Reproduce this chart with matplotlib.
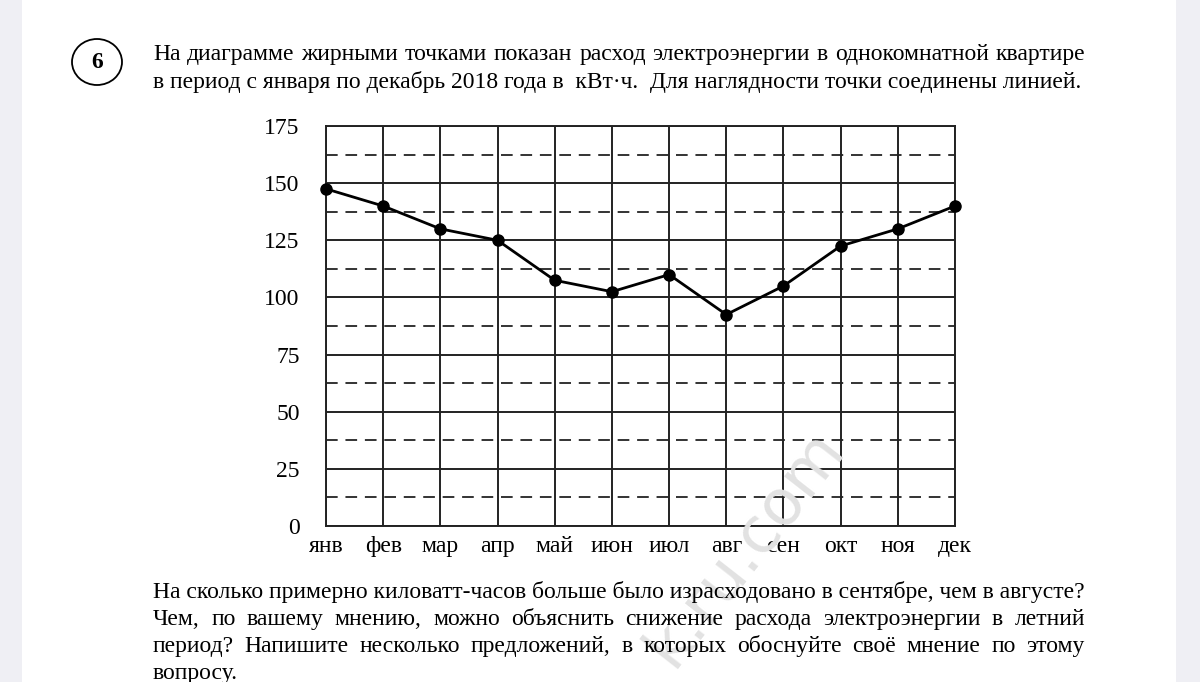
import matplotlib
matplotlib.use("Agg")
import matplotlib.pyplot as plt
from matplotlib.patches import Ellipse, Rectangle

# --- данные ---
months = ["янв", "фев", "мар", "апр", "май", "июн",
          "июл", "авг", "сен", "окт", "ноя", "дек"]
consumption = [147.5, 140, 130, 125, 107.5, 102.5,
               110, 92.5, 105, 122.5, 130, 140]
y_ticks = [0, 25, 50, 75, 100, 125, 150, 175]
y_half = [12.5, 37.5, 62.5, 87.5, 112.5, 137.5, 162.5]

title_lines = [
    "На диаграмме жирными точками показан расход электроэнергии в однокомнатной квартире",
    "в период с января по декабрь 2018 года в  кВт\u00b7ч.  Для наглядности точки соединены линией.",
]
question_lines = [
    "На сколько примерно киловатт-часов больше было израсходовано в сентябре, чем в августе?",
    "Чем, по вашему мнению, можно объяснить снижение расхода электроэнергии в летний",
    "период? Напишите несколько предложений, в которых обоснуйте своё мнение по этому",
    "вопросу.",
]

W, H = 1200, 682
FONT = "Liberation Serif"
FS = 17

fig = plt.figure(figsize=(W / 100, H / 100), dpi=100)
fig.patch.set_facecolor("white")

# серые поля по краям (скриншот)
fig.patches.append(Rectangle((0, 0), 22 / W, 1, transform=fig.transFigure,
                             facecolor="#efeff4", edgecolor="none", zorder=0))
fig.patches.append(Rectangle((1176 / W, 0), 24 / W, 1, transform=fig.transFigure,
                             facecolor="#efeff4", edgecolor="none", zorder=0))


def px(x, y):
    return x / W, 1 - y / H


def justified(text, y, x0, x1, justify=True):
    # раскладываем слова так, чтобы строка заняла всю ширину
    words = text.split()
    if not justify:
        fig.text(*px(x0, y), text, fontsize=FS, family=FONT, va="baseline", ha="left")
        return
    r = fig.canvas.get_renderer()
    arts = [fig.text(0, 0, w_, fontsize=FS, family=FONT, va="baseline", ha="left") for w_ in words]
    widths = [a.get_window_extent(renderer=r).width for a in arts]
    gap = (x1 - x0 - sum(widths)) / (len(words) - 1)
    x = x0
    for a, w_ in zip(arts, widths):
        a.set_position(px(x, y))
        x += w_ + gap


# номер задания в кружке
fig.patches.append(Ellipse(px(97, 62), 50 / W, 46 / H, transform=fig.transFigure,
                           facecolor="none", edgecolor="black", lw=1.3))
fig.text(*px(97, 63), "6", fontsize=FS, family=FONT, fontweight="bold",
         ha="center", va="center")

justified(title_lines[0], 60, 153, 1085)
justified(title_lines[1], 88, 153, 1070, justify=False)

justified(question_lines[0], 598, 153, 1085, justify=False)
justified(question_lines[1], 625, 153, 1085)
justified(question_lines[2], 652, 153, 1085)
justified(question_lines[3], 679, 153, 1085, justify=False)

# водяной знак
fig.text(*px(745, 548), "k.ru.com", fontsize=46, family="DejaVu Sans",
         color="#e2e2e2", rotation=52, ha="center", va="center", zorder=0)

# --- график ---
ax = fig.add_axes([326 / W, 1 - 526 / H, 629 / W, 400 / H])
ax.patch.set_alpha(0)
x = list(range(len(months)))

for v in y_ticks:
    ax.axhline(v, color="#222222", lw=1.4, zorder=1)
for v in y_half:
    ax.axhline(v, color="#333333", lw=1.4, ls=(0, (6, 4)), zorder=1)
for xi in x:
    ax.axvline(xi, color="#222222", lw=1.4, zorder=1)

ax.plot(x, consumption, color="black", lw=2, marker="o", markersize=8,
        clip_on=False, zorder=3)

ax.set_xlim(0, 11)
ax.set_ylim(0, 175)
ax.set_xticks(x)
ax.set_xticklabels(months, fontsize=FS, family=FONT)
ax.set_yticks(y_ticks)
ax.set_yticklabels([str(v) for v in y_ticks], fontsize=FS, family=FONT)
ax.tick_params(length=0)
ax.tick_params(axis="y", pad=19)
ax.tick_params(axis="x", pad=7)
for s in ax.spines.values():
    s.set_color("#222222")
    s.set_linewidth(1.4)

fig.savefig("out.png", dpi=100)
